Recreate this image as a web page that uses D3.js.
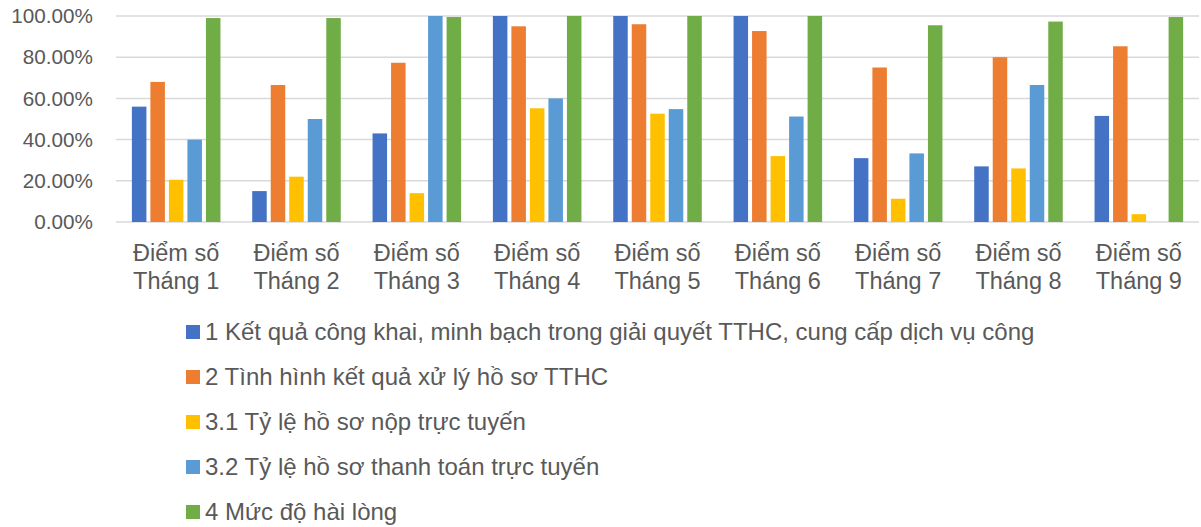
<!DOCTYPE html>
<html>
<head>
<meta charset="utf-8">
<script src="https://cdn.jsdelivr.net/npm/d3@7"></script>
<style>
  body { margin: 0; background: #fff; }
  text { font-family: "Liberation Sans", Arial, sans-serif; fill: #595959; }
</style>
</head>
<body>
<div id="chart"></div>
<script>
/* ---------------------- Data ---------------------- */
var months = ["Tháng 1", "Tháng 2", "Tháng 3", "Tháng 4", "Tháng 5", "Tháng 6", "Tháng 7", "Tháng 8", "Tháng 9"];
var seriesNames = [
    "1 Kết quả công khai, minh bạch trong giải quyết TTHC, cung cấp dịch vụ công",
    "2 Tình hình kết quả xử lý hồ sơ TTHC",
    "3.1 Tỷ lệ hồ sơ nộp trực tuyến",
    "3.2 Tỷ lệ hồ sơ thanh toán trực tuyến",
    "4 Mức độ hài lòng"
];
var s1 = [0.56, 0.15, 0.43, 1.00, 1.00, 1.00, 0.31, 0.27, 0.515];
var s2 = [0.68, 0.665, 0.773, 0.95, 0.96, 0.927, 0.75, 0.80, 0.853];
var s31 = [0.205, 0.22, 0.14, 0.552, 0.526, 0.32, 0.113, 0.26, 0.038];
var s32 = [0.40, 0.50, 1.00, 0.60, 0.548, 0.512, 0.333, 0.665, 0];
var s4 = [0.99, 0.99, 0.995, 1.00, 1.00, 1.00, 0.955, 0.973, 0.995];
var yTicks = [0, 0.2, 0.4, 0.6, 0.8, 1.0];

var colors = ["#4472C4", "#ED7D31", "#FFC000", "#5B9BD5", "#70AD47"];
var allSeries = [s1, s2, s31, s32, s4];

/* ---------------------- Layout ---------------------- */
var width = 1201, height = 527;
var plot = {left: 116, right: 1199, top: 16, bottom: 222};

var svg = d3.select("#chart")
    .append("svg")
    .attr("width", width)
    .attr("height", height);

// Category bands: one step per month, bars grouped in the middle
var x0 = d3.scaleBand()
    .domain(months)
    .range([plot.left, plot.right])
    .paddingInner(0.264)
    .paddingOuter(0.132);

var x1 = d3.scaleBand()
    .domain(d3.range(seriesNames.length))
    .range([0, x0.bandwidth()])
    .paddingInner(0.216);

var y = d3.scaleLinear()
    .domain([0, 1])
    .range([plot.bottom, plot.top]);

// Gridlines
svg.append("g")
    .selectAll("line")
    .data(yTicks)
    .enter()
    .append("line")
    .attr("x1", plot.left)
    .attr("x2", plot.right)
    .attr("y1", d => y(d))
    .attr("y2", d => y(d))
    .attr("stroke", "#D9D9D9")
    .attr("stroke-width", 1.5);

// Y labels
var pct = d3.format(".2%");
svg.append("g")
    .selectAll("text")
    .data(yTicks)
    .enter()
    .append("text")
    .attr("x", 93)
    .attr("y", d => y(d))
    .attr("dy", "0.35em")
    .attr("text-anchor", "end")
    .style("font-size", "20.7px")
    .text(d => pct(d));

// Bars
var groups = svg.append("g")
    .selectAll("g")
    .data(months)
    .enter()
    .append("g")
    .attr("transform", d => `translate(${x0(d)},0)`);

groups.selectAll("rect")
    .data((m, i) => allSeries.map((s, k) => ({k: k, v: s[i]})))
    .enter()
    .append("rect")
    .attr("x", d => x1(d.k))
    .attr("width", x1.bandwidth())
    .attr("y", d => y(d.v))
    .attr("height", d => y(0) - y(d.v))
    .attr("fill", d => colors[d.k]);

// Category labels
var cat = svg.append("g")
    .selectAll("text")
    .data(months)
    .enter()
    .append("text")
    .attr("text-anchor", "middle")
    .style("font-size", "23.5px");

cat.append("tspan")
    .attr("x", d => x0(d) + x0.bandwidth() / 2)
    .attr("y", 261)
    .text("Điểm số");

cat.append("tspan")
    .attr("x", d => x0(d) + x0.bandwidth() / 2)
    .attr("y", 289)
    .text(d => d);

// Legend
var legend = svg.append("g")
    .selectAll("g")
    .data(seriesNames)
    .enter()
    .append("g")
    .attr("transform", (d, i) => `translate(186, ${332 + i * 45})`);

legend.append("rect")
    .attr("x", 0)
    .attr("y", -7)
    .attr("width", 14)
    .attr("height", 14)
    .attr("fill", (d, i) => colors[i]);

legend.append("text")
    .attr("x", 19)
    .attr("y", 0)
    .attr("dy", "0.35em")
    .style("font-size", "24px")
    .text(d => d);
</script>
</body>
</html>
